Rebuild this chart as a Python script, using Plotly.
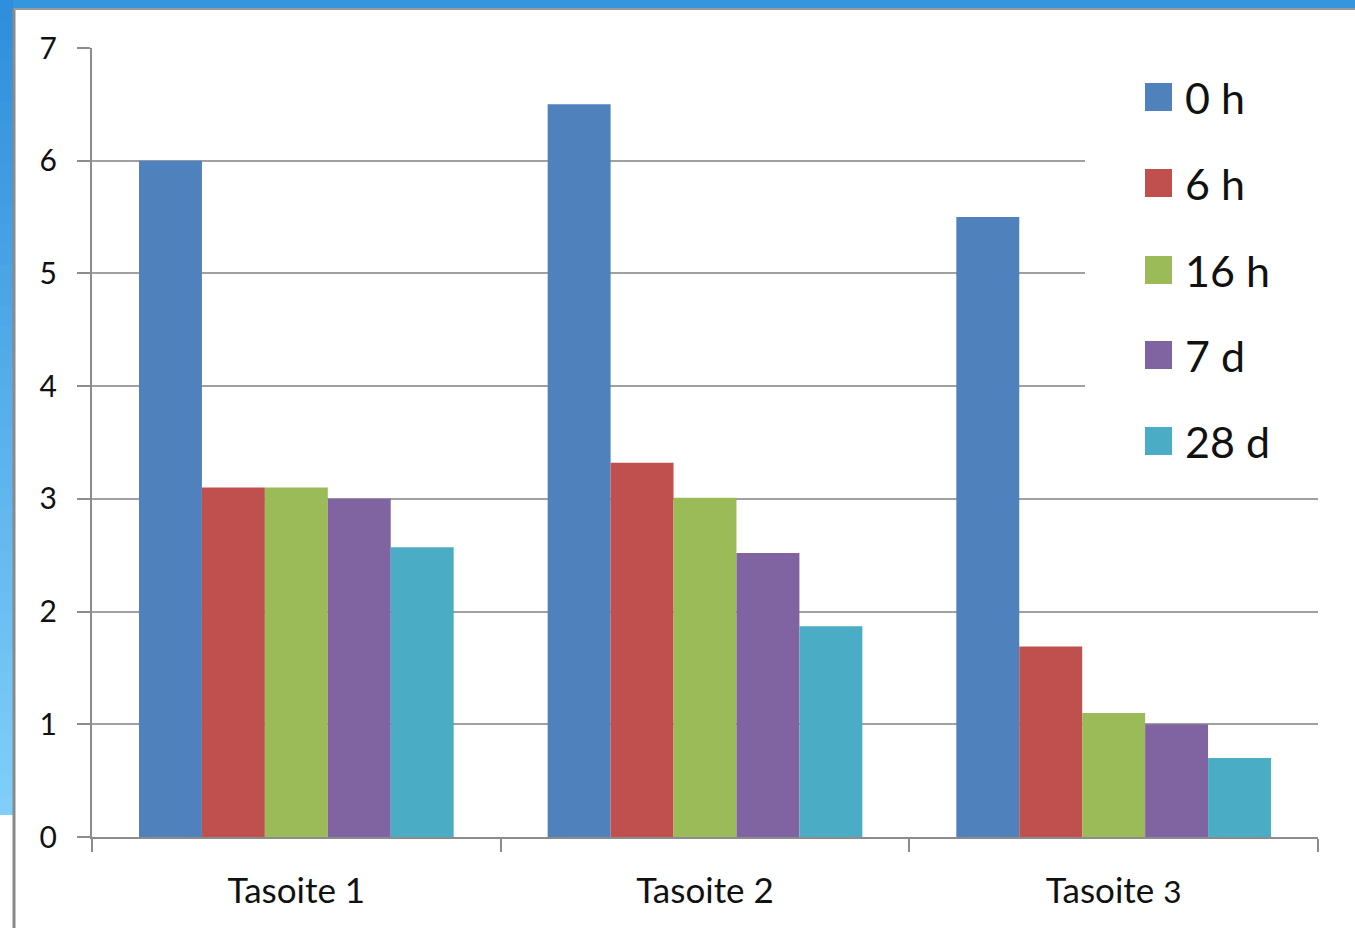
import plotly.graph_objects as go

categories = ["Tasoite 1", "Tasoite 2", "Tasoite <span style='font-size:0.9em'>3</span>"]
series_names = ["0 h", "6 h", "16 h", "7 d", "28 d"]
colors = ["#4F81BD", "#C0504D", "#9BBB59", "#8064A2", "#4BACC6"]
values_0h = [6.0, 6.5, 5.5]
values_6h = [3.1, 3.32, 1.69]
values_16h = [3.1, 3.01, 1.1]
values_7d = [3.0, 2.52, 1.0]
values_28d = [2.57, 1.87, 0.7]
series_values = [values_0h, values_6h, values_16h, values_7d, values_28d]
y_ticks = [0, 1, 2, 3, 4, 5, 6, 7]

W, H = 1355, 928
L, R, T, B = 92, 37, 48, 91
PW, PH = W - L - R, H - T - B


def px(x):
    return (x - L) / PW


def py(y):
    return (H - B - y) / PH


FONT = "Lato, 'Open Sans', sans-serif"

fig = go.Figure()
for name, vals, col in zip(series_names, series_values, colors):
    fig.add_trace(go.Bar(x=categories, y=vals, name=name,
                         marker=dict(color=col, line=dict(width=0)),
                         showlegend=False))

shapes = []
# slide background strips (top and left) with a vertical gradient on the left
shapes.append(dict(type="rect", xref="paper", yref="paper", layer="below",
                   x0=px(0), x1=px(W), y0=py(8), y1=py(0),
                   fillcolor="#3596E0", line=dict(width=0)))
n_steps = 40
top, bottom = 0, 815
for i in range(n_steps):
    t = i / (n_steps - 1)
    r = int(0x2F + (0x80 - 0x2F) * t)
    g = int(0x8F + (0xCF - 0x8F) * t)
    b = int(0xDD + (0xFA - 0xDD) * t)
    y0 = top + (bottom - top) * i / n_steps
    y1 = min(bottom, top + (bottom - top) * (i + 1) / n_steps + 2)
    shapes.append(dict(type="rect", xref="paper", yref="paper", layer="below",
                       x0=px(0), x1=px(13), y0=py(y1), y1=py(y0),
                       fillcolor=f"rgb({r},{g},{b})", line=dict(width=0)))
# chart frame edges
shapes.append(dict(type="line", xref="paper", yref="paper", layer="below",
                   x0=px(14), x1=px(14), y0=py(H), y1=py(8),
                   line=dict(color="#8A8A8A", width=3)))
shapes.append(dict(type="line", xref="paper", yref="paper", layer="below",
                   x0=px(14), x1=px(W), y0=py(9), y1=py(9),
                   line=dict(color="#9A9A9A", width=2)))
# legend background masking the gridlines
shapes.append(dict(type="rect", xref="paper", yref="paper", layer="above",
                   x0=px(1085), x1=px(1322), y0=py(480), y1=py(58),
                   fillcolor="white", line=dict(width=0)))

annotations = []
leg_y = [97, 183, 270, 355, 441]
for name, col, yc in zip(series_names, colors, leg_y):
    shapes.append(dict(type="rect", xref="paper", yref="paper", layer="above",
                       x0=px(1145), x1=px(1172), y0=py(yc + 14), y1=py(yc - 14),
                       fillcolor=col, line=dict(width=0)))
    annotations.append(dict(xref="paper", yref="paper", x=px(1183), y=py(yc),
                            text=name, showarrow=False, xanchor="left",
                            yanchor="middle",
                            font=dict(family=FONT, size=43, color="#111111")))

fig.update_layout(
    width=W, height=H,
    margin=dict(l=L, r=R, t=T, b=B, pad=0),
    paper_bgcolor="white", plot_bgcolor="white",
    barmode="group", bargap=0.23, bargroupgap=0,
    font=dict(family=FONT, color="#111111"),
    shapes=shapes, annotations=annotations,
    xaxis=dict(type="category", tickson="boundaries", ticks="outside",
               ticklen=13, tickwidth=2, tickcolor="#8C8C8C",
               showline=True, linecolor="#8C8C8C", linewidth=2,
               showgrid=False, tickfont=dict(size=35, family=FONT, color="#111111"),
               ticklabelstandoff=22),
    yaxis=dict(range=[0, 7], tickvals=y_ticks, ticks="outside",
               ticklen=13, tickwidth=2, tickcolor="#8C8C8C",
               showline=True, linecolor="#8C8C8C", linewidth=2,
               showgrid=True, gridcolor="#A0A0A0", gridwidth=2,
               zeroline=False, tickfont=dict(size=30, family=FONT, color="#111111"),
               ticklabelstandoff=14),
)

fig.write_html("out.html")
